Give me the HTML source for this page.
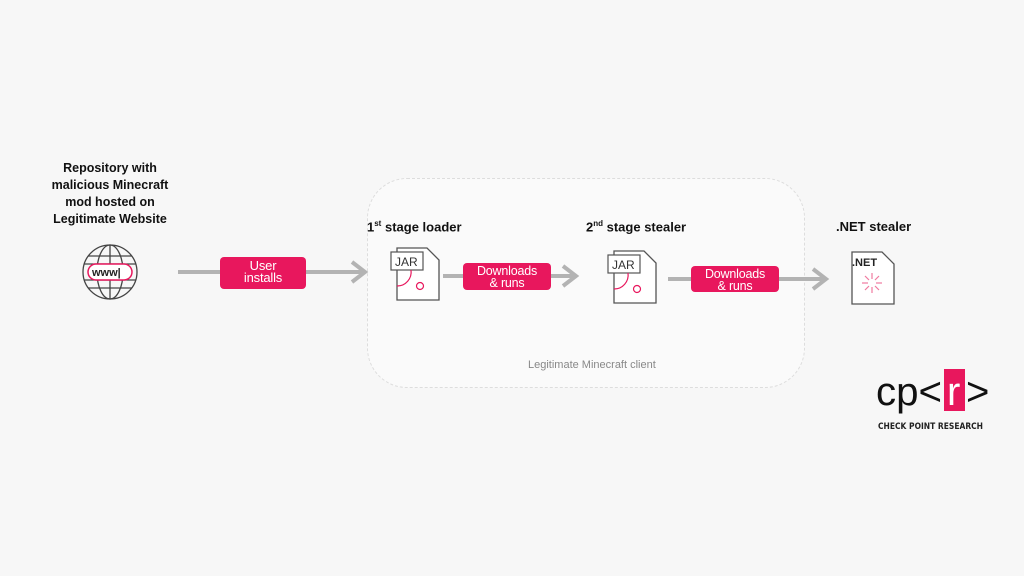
<!DOCTYPE html>
<html><head><style>
body{margin:0;width:1024px;height:576px;background:#f7f7f7;position:relative;overflow:hidden;font-family:"Liberation Sans",sans-serif}
.t{position:absolute;font-weight:bold;font-size:13px;color:#111}
.pill{position:absolute;background:#e8175d;color:#fff;border-radius:4px;text-align:center;font-size:12.5px;line-height:12px;padding-top:2px;box-sizing:border-box;letter-spacing:-0.2px}
</style></head><body>
<div style="position:absolute;left:367px;top:178px;width:438px;height:210px;border:1px dashed #ddd;border-radius:40px;background:#fafafa;box-sizing:border-box"></div>
<div class="t" style="left:40px;top:160px;width:140px;text-align:center;line-height:17px;font-size:12.5px">Repository with malicious Minecraft mod hosted on Legitimate Website</div>
<div class="t" style="left:367px;top:219px">1<sup style="font-size:8px">st</sup> stage loader</div>
<div class="t" style="left:586px;top:219px">2<sup style="font-size:8px">nd</sup> stage stealer</div>
<div class="t" style="left:836px;top:219px">.NET stealer</div>
<div style="position:absolute;left:528px;top:359px;font-size:11px;color:#888">Legitimate Minecraft client</div>
<svg width="1024" height="576" style="position:absolute;left:0;top:0">
<g stroke="#b3b3b3" stroke-width="4" fill="none">
<line x1="178" y1="272" x2="365" y2="272"/><polyline points="352,262 365,272 352,282"/>
<line x1="443" y1="276" x2="576" y2="276"/><polyline points="563,266 576,276 563,286"/>
<line x1="668" y1="279" x2="826" y2="279"/><polyline points="813,269 826,279 813,289"/>
</g>
<g stroke="#444" stroke-width="1.3" fill="none">
<circle cx="110" cy="272" r="27"/><ellipse cx="110" cy="272" rx="13" ry="27"/><line x1="110" y1="245" x2="110" y2="299"/>
<line x1="88" y1="256" x2="132" y2="256"/><line x1="84" y1="264" x2="136" y2="264"/><line x1="84" y1="280" x2="136" y2="280"/><line x1="88" y1="288" x2="132" y2="288"/>
</g>
<rect x="88" y="264" width="44" height="16" rx="8" fill="#fff" stroke="#e8175d" stroke-width="1.5"/>
<text x="92" y="276" font-size="11" font-weight="bold" fill="#222" font-family="Liberation Sans">www|</text>
<g fill="#fff" stroke="#555" stroke-width="1.3">
<path d="M397 248h30l12 12v40h-42z"/><path d="M614 251h30l12 12v40h-42z"/><path d="M852 252h30l12 12v40h-42z"/>
</g>
<g fill="#fff" stroke="#555" stroke-width="1.2">
<rect x="391" y="252" width="32" height="18"/><rect x="608" y="255" width="32" height="18"/>
</g>
<text x="395" y="266" font-size="12" fill="#333" font-family="Liberation Sans">JAR</text>
<text x="612" y="269" font-size="12" fill="#333" font-family="Liberation Sans">JAR</text>
<text x="852" y="266" font-size="11" font-weight="bold" fill="#222" font-family="Liberation Sans">.NET</text>
<g stroke="#e8175d" stroke-width="1.2" fill="none">
<path d="M397 286a14 14 0 0 0 14 -16"/><circle cx="420" cy="286" r="3.5"/>
<path d="M614 289a14 14 0 0 0 14 -16"/><circle cx="637" cy="289" r="3.5"/>
</g>
<g stroke="#f07aa0" stroke-width="1.2">
<line x1="872" y1="273" x2="872" y2="279"/><line x1="872" y1="287" x2="872" y2="293"/>
<line x1="862" y1="283" x2="868" y2="283"/><line x1="876" y1="283" x2="882" y2="283"/>
<line x1="865" y1="276" x2="869" y2="280"/><line x1="875" y1="286" x2="879" y2="290"/>
<line x1="879" y1="276" x2="875" y2="280"/><line x1="869" y1="286" x2="865" y2="290"/>
</g>
<rect x="944" y="369" width="21" height="42" fill="#e8175d"/>
<text x="876" y="405" font-size="40" fill="#111" font-family="Liberation Sans" textLength="66" lengthAdjust="spacingAndGlyphs">cp&lt;</text>
<text x="947" y="405" font-size="40" fill="#fff" font-family="Liberation Sans">r</text>
<text x="966" y="405" font-size="40" fill="#111" font-family="Liberation Sans">&gt;</text>
<text x="878" y="429" font-size="8.5" font-weight="bold" fill="#222" font-family="DejaVu Sans" textLength="105" lengthAdjust="spacingAndGlyphs">CHECK POINT RESEARCH</text>
</svg>
<div class="pill" style="left:220px;top:257px;width:86px;height:32px;padding-top:3px;font-size:13px">User<br>installs</div>
<div class="pill" style="left:463px;top:263px;width:88px;height:27px">Downloads<br>&amp; runs</div>
<div class="pill" style="left:691px;top:266px;width:88px;height:26px">Downloads<br>&amp; runs</div>
</body></html>
